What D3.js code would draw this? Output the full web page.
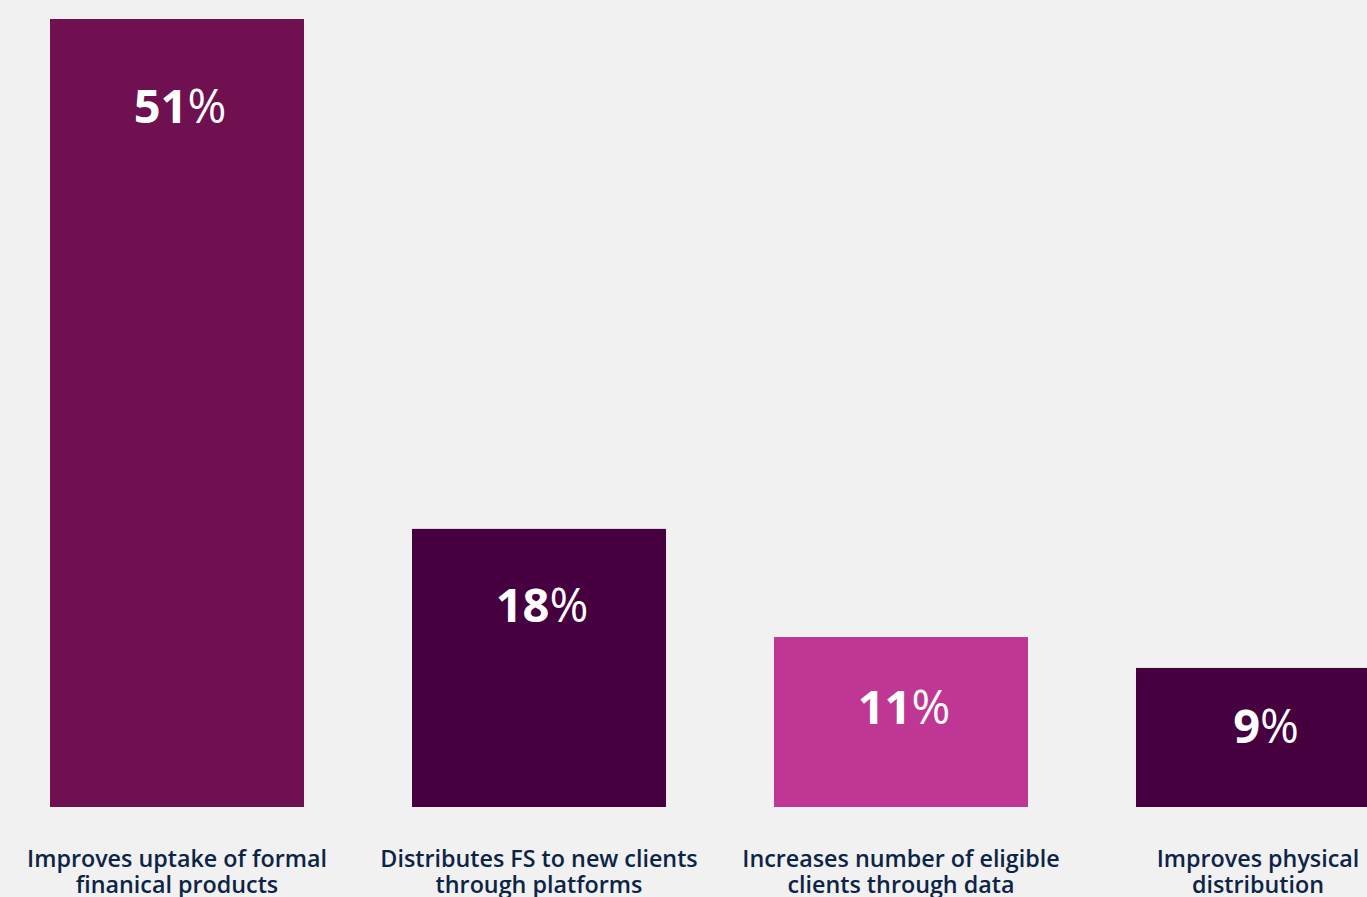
<!DOCTYPE html>
<html>
<head>
<meta charset="utf-8">
<script src="https://cdn.jsdelivr.net/npm/d3@7"></script>
<style>
  html, body { margin: 0; padding: 0; background: #f0f1f0; overflow: hidden; }
  svg { display: block; font-family: "Open Sans", sans-serif; }
</style>
</head>
<body>
<div id="chart"></div>
<script>
const categories = [
  ["Improves uptake of formal", "finanical products"],
  ["Distributes FS to new clients", "through platforms"],
  ["Increases number of eligible", "clients through data"],
  ["Improves physical", "distribution"]
];
const values = [51, 18, 11, 9];
const colors = ["#6f1050", "#46003f", "#c03694", "#46003f"];

const width = 1367;
const height = 897;
// label baseline distance below each bar top
const labelOffset = [104, 93, 87, 75];

const svg = d3
  .select("#chart")
  .append("svg")
  .attr("width", width)
  .attr("height", height);

svg.append("rect")
  .attr("width", width)
  .attr("height", height)
  .attr("fill", "#f0f1f0");

const x = d3
  .scaleBand()
  .domain(d3.range(values.length))
  .range([50, 1390])
  .paddingInner(0.2983)
  .paddingOuter(0);

const y = d3.scaleLinear().domain([0, 51]).range([807, 19]);

svg
  .append("g")
  .selectAll("rect")
  .data(values)
  .join("rect")
  .attr("x", (d, i) => x(i))
  .attr("y", d => y(d))
  .attr("width", x.bandwidth())
  .attr("height", d => y(0) - y(d))
  .attr("fill", (d, i) => colors[i]);

// value labels: bold number, regular percent sign
const vl = svg
  .append("g")
  .selectAll("text")
  .data(values)
  .join("text")
  .attr("x", (d, i) => x(i) + x.bandwidth() / 2 + 3)
  .attr("y", (d, i) => y(d) + labelOffset[i])
  .attr("text-anchor", "middle")
  .attr("fill", "#ffffff")
  .attr("font-size", 47);

vl.append("tspan").attr("font-weight", 700).text(d => d);
vl.append("tspan").attr("font-weight", 400).text("%");

// category labels
const cl = svg
  .append("g")
  .selectAll("text")
  .data(categories)
  .join("text")
  .attr("x", (d, i) => x(i) + x.bandwidth() / 2 - (i === 3 ? 5 : 0))
  .attr("y", 867)
  .attr("text-anchor", "middle")
  .attr("fill", "#0d2447")
  .attr("font-size", 23.3)
  .attr("font-weight", 600);

cl.selectAll("tspan")
  .data(d => d)
  .join("tspan")
  .attr("x", function() { return this.parentNode.getAttribute("x"); })
  .attr("dy", (d, i) => i === 0 ? 0 : 26)
  .text(d => d);
</script>
</body>
</html>
